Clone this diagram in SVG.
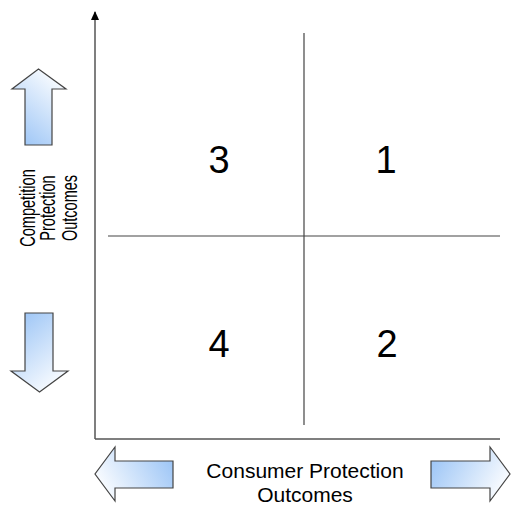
<svg xmlns="http://www.w3.org/2000/svg" width="515" height="506" viewBox="0 0 515 506">
<defs>
<style>
.ax{stroke:#555;stroke-width:1.5;fill:none}
.q{stroke:#444;stroke-width:1.2;fill:none}
.arr{stroke:#444;stroke-width:1.2}
.num{font-family:"Liberation Sans",Arial,sans-serif;font-size:38px;fill:#000;text-anchor:middle}
.lbl{font-family:"Liberation Sans",Arial,sans-serif;font-size:21px;fill:#000;text-anchor:middle}
.vl{font-family:"Liberation Sans",Arial,sans-serif;font-size:22px;fill:#000;text-anchor:middle}
</style>
<marker id="ah" markerWidth="9" markerHeight="8" refX="8" refY="4" orient="auto" markerUnits="userSpaceOnUse">
<path d="M0,0 L9,4 L0,8 Z" fill="#000"/>
</marker>
<linearGradient id="gUp" x1="0.2" y1="1" x2="0.8" y2="0"><stop offset="0" stop-color="#9ec6f6"/><stop offset="1" stop-color="#ffffff"/></linearGradient>
<linearGradient id="gDown" x1="0.2" y1="0" x2="0.8" y2="1"><stop offset="0" stop-color="#9ec6f6"/><stop offset="1" stop-color="#ffffff"/></linearGradient>
<linearGradient id="gLeft" x1="1" y1="0.3" x2="0" y2="0.7"><stop offset="0" stop-color="#9ec6f6"/><stop offset="1" stop-color="#ffffff"/></linearGradient>
<linearGradient id="gRight" x1="0" y1="0.3" x2="1" y2="0.7"><stop offset="0" stop-color="#9ec6f6"/><stop offset="1" stop-color="#ffffff"/></linearGradient>
</defs>
<rect width="515" height="506" fill="#fff"/>
<g id="connectors">
<line class="ax" x1="95" y1="439" x2="95" y2="12" marker-end="url(#ah)"/>
<line class="ax" x1="95" y1="439" x2="500" y2="439"/>
<line class="q" x1="304" y1="33" x2="304" y2="425"/>
<line class="q" x1="108" y1="236" x2="500" y2="236"/>
</g>
<g id="arrow-up"><path class="arr" fill="url(#gUp)" d="M25,145 L25,89 L12,89 L38.5,69 L66,89 L52,89 L52,145 Z"/></g>
<g id="arrow-down"><path class="arr" fill="url(#gDown)" d="M25,313 L53,313 L53,371 L68,371 L39.5,392 L11,371 L25,371 Z"/></g>
<g id="arrow-left"><path class="arr" fill="url(#gLeft)" d="M173,461 L173,488 L115,488 L115,501 L95,474 L115,447 L115,461 Z"/></g>
<g id="arrow-right"><path class="arr" fill="url(#gRight)" d="M431,461 L490,461 L490,447 L510,474 L490,501 L490,488 L431,488 Z"/></g>
<g id="q3"><text class="num" x="219" y="173">3</text></g>
<g id="q1"><text class="num" x="386" y="173">1</text></g>
<g id="q4"><text class="num" x="219" y="357">4</text></g>
<g id="q2"><text class="num" x="387" y="357">2</text></g>
<g id="label-y">
<text class="vl" transform="translate(35,208) rotate(-90) scale(0.66,1)">Competition</text>
<text class="vl" transform="translate(55,208) rotate(-90) scale(0.66,1)">Protection</text>
<text class="vl" transform="translate(77,208) rotate(-90) scale(0.66,1)">Outcomes</text>
</g>
<g id="label-x">
<text class="lbl" x="305" y="478">Consumer Protection</text>
<text class="lbl" x="305" y="502">Outcomes</text>
</g>
</svg>
